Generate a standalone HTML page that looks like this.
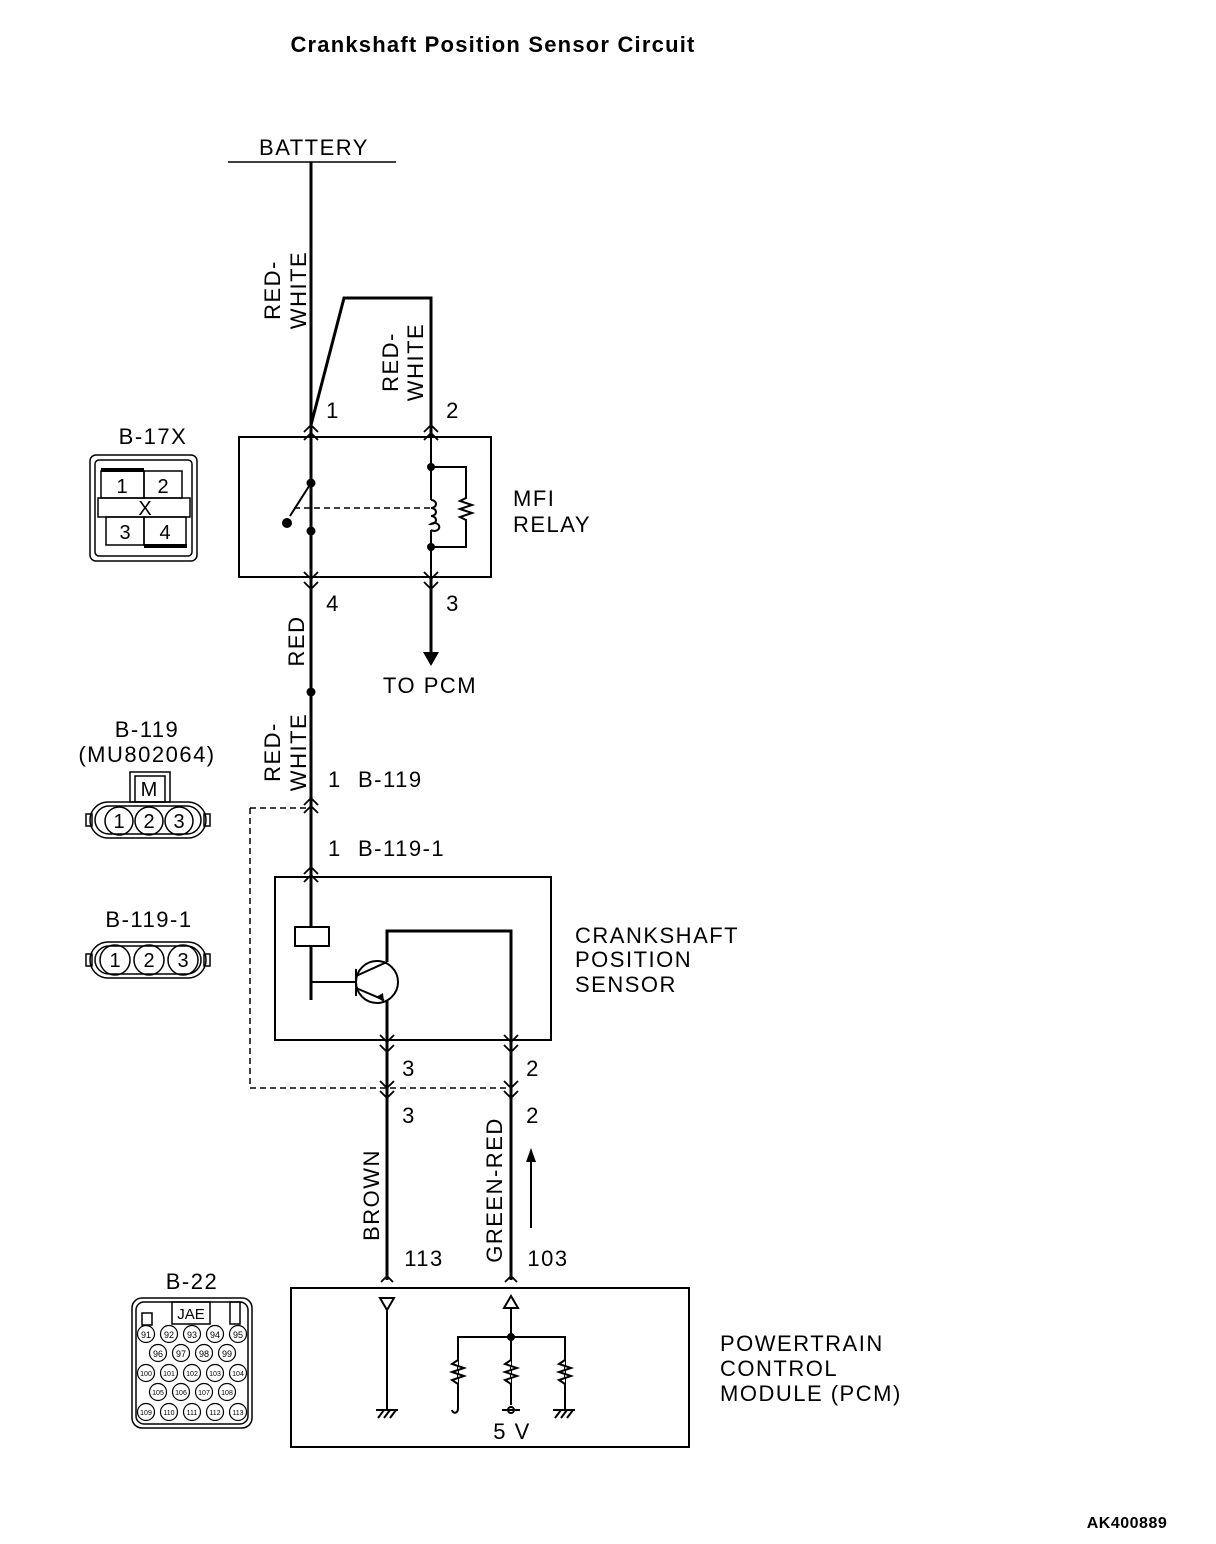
<!DOCTYPE html>
<html><head><style>body{margin:0;background:#fff}svg{display:block}text{font-family:"Liberation Sans",sans-serif;fill:#000}.t text,.t{letter-spacing:1.5px}</style></head><body>
<svg width="1216" height="1544" viewBox="0 0 1216 1544" xmlns="http://www.w3.org/2000/svg">
<g font-size="22" class="t">
<text x="493" y="52" text-anchor="middle" font-weight="bold" font-size="22" style="letter-spacing:1.2px">Crankshaft Position Sensor Circuit</text>
<text x="314" y="155" text-anchor="middle">BATTERY</text>
<text x="1127" y="1528" text-anchor="middle" font-weight="bold" font-size="16" style="letter-spacing:0.5px">AK400889</text>
</g>
<g stroke="#000" fill="none">
<line x1="228" y1="162" x2="396" y2="162" stroke-width="1.5"/>
<line x1="311" y1="162" x2="311" y2="1000" stroke-width="3"/>
<polyline points="311,425 344,298 431,298 431,437" stroke-width="3"/>
<rect x="239" y="437" width="252" height="140" stroke-width="2"/>
<line x1="431" y1="437" x2="431" y2="500" stroke-width="2"/>
<line x1="431" y1="530" x2="431" y2="577" stroke-width="2"/>
<line x1="431" y1="577" x2="431" y2="655" stroke-width="3"/>
<path d="M431,500 a5,4 0 1 1 0,8 a5,4 0 1 1 0,8 a5,4 0 1 1 0,8 a5,4 0 1 1 0,6" stroke-width="2"/>
<polyline points="431,467 466,467 466,498 460,501 472,505 460,509 472,513 460,517 466,520 466,547 431,547" stroke-width="2"/>
<line x1="311" y1="483" x2="290" y2="516" stroke-width="2"/>
<line x1="294" y1="508" x2="431" y2="508" stroke-width="1.5" stroke-dasharray="6,4"/>
<polyline points="250,808 250,1088 511,1088" stroke-width="1.5" stroke-dasharray="6,4"/>
<line x1="250" y1="808" x2="311" y2="808" stroke-width="1.5" stroke-dasharray="6,4"/>
<rect x="275" y="877" width="276" height="163" stroke-width="2"/>
<rect x="295" y="927" width="34" height="19" stroke-width="2" fill="#fff"/>
<polyline points="311,946 311,982 356,982" stroke-width="2"/>
<circle cx="377" cy="982" r="21" stroke-width="2"/>
<line x1="356" y1="969" x2="356" y2="996" stroke-width="2"/>
<line x1="356" y1="976" x2="387" y2="962" stroke-width="2"/>
<line x1="356" y1="988" x2="384" y2="1000" stroke-width="2"/>
<polyline points="387,962 387,931 511,931 511,1280" stroke-width="3"/>
<line x1="387" y1="1000" x2="387" y2="1280" stroke-width="3"/>
<line x1="531" y1="1228" x2="531" y2="1160" stroke-width="2"/>
<rect x="291" y="1288" width="398" height="159" stroke-width="2"/>
<line x1="387" y1="1310" x2="387" y2="1410" stroke-width="2"/>
<line x1="511" y1="1308" x2="511" y2="1405" stroke-width="2"/>
<polyline points="458,1390 458,1337 565,1337 565,1410" stroke-width="2"/>
<path d="M458,1360 l-6,4 l12,4 l-12,4 l12,4 l-12,4 l6,4 M511,1360 l-6,4 l12,4 l-12,4 l12,4 l-12,4 l6,4 M565,1360 l-6,4 l12,4 l-12,4 l12,4 l-12,4 l6,4" stroke-width="2" fill="#fff"/>
<path d="M458,1390 v18 c0,6 -5,6 -6,2" stroke-width="2"/>
<path d="M380,1298 h14 l-7,12 z M504,1308 h14 l-7,-12 z" stroke-width="2"/>
<path d="M376,1410 h22 M378,1418 l6,-8 M384,1418 l6,-8 M390,1418 l6,-8 M553,1410 h22 M555,1418 l6,-8 M561,1418 l6,-8 M567,1418 l6,-8" stroke-width="2"/>
<line x1="502" y1="1410" x2="520" y2="1410" stroke-width="2"/>
<circle cx="511" cy="1410" r="3" stroke-width="2"/>
<path stroke-width="1.8" d="M304,432 l7,-7 l7,7 M304,440 l7,-7 l7,7 M424,432 l7,-7 l7,7 M424,440 l7,-7 l7,7
M304,572 l7,7 l7,-7 M304,582 l7,7 l7,-7 M424,572 l7,7 l7,-7 M424,582 l7,7 l7,-7
M304,805 l7,-7 l7,7 M304,813 l7,-7 l7,7 M304,874 l7,-7 l7,7 M304,882 l7,-7 l7,7
M380,1035 l7,7 l7,-7 M380,1045 l7,7 l7,-7 M504,1035 l7,7 l7,-7 M504,1045 l7,7 l7,-7
M380,1081 l7,7 l7,-7 M380,1091 l7,7 l7,-7 M504,1081 l7,7 l7,-7 M504,1091 l7,7 l7,-7
M381,1282 l6,-6 l6,6 M505,1282 l6,-6 l6,6"/>
</g>
<g fill="#000">
<circle cx="311" cy="483" r="4.5"/><circle cx="287" cy="523" r="5"/><circle cx="311" cy="531" r="4.5"/>
<circle cx="431" cy="467" r="4"/><circle cx="431" cy="547" r="4"/><circle cx="311" cy="692" r="4.5"/>
<circle cx="511" cy="1337" r="4"/>
<path d="M423,652 h16 l-8,14 z"/>
<path d="M526,1162 h10 l-5,-14 z"/>
<path d="M376,997 l8,5 l-1,-9 z"/>
</g>
<g font-size="22" class="t">
<text x="333" y="418" text-anchor="middle">1</text><text x="453" y="418" text-anchor="middle">2</text>
<text x="333" y="611" text-anchor="middle">4</text><text x="453" y="611" text-anchor="middle">3</text>
<text x="513" y="506">MFI</text><text x="513" y="532">RELAY</text>
<text x="430" y="693" text-anchor="middle">TO PCM</text>
<text x="328" y="787">1</text><text x="358" y="787">B-119</text>
<text x="328" y="856">1</text><text x="358" y="856">B-119-1</text>
<text x="575" y="943">CRANKSHAFT</text><text x="575" y="967">POSITION</text><text x="575" y="992">SENSOR</text>
<text x="409" y="1076" text-anchor="middle">3</text><text x="533" y="1076" text-anchor="middle">2</text>
<text x="409" y="1123" text-anchor="middle">3</text><text x="533" y="1123" text-anchor="middle">2</text>
<text x="424" y="1266" text-anchor="middle">113</text><text x="548" y="1266" text-anchor="middle">103</text>
<text x="720" y="1351">POWERTRAIN</text><text x="720" y="1376">CONTROL</text><text x="720" y="1401">MODULE (PCM)</text>
<text x="512" y="1439" text-anchor="middle">5 V</text>
<text transform="translate(288,290) rotate(-90)" text-anchor="middle" x="0" y="-8">RED-</text>
<text transform="translate(288,290) rotate(-90)" text-anchor="middle" x="0" y="18">WHITE</text>
<text transform="translate(406,362) rotate(-90)" text-anchor="middle" x="0" y="-8">RED-</text>
<text transform="translate(406,362) rotate(-90)" text-anchor="middle" x="0" y="17">WHITE</text>
<text transform="translate(288,752) rotate(-90)" text-anchor="middle" x="0" y="-8">RED-</text>
<text transform="translate(288,752) rotate(-90)" text-anchor="middle" x="0" y="18">WHITE</text>
<text transform="translate(304,641) rotate(-90)" text-anchor="middle">RED</text>
<text transform="translate(379,1195) rotate(-90)" text-anchor="middle">BROWN</text>
<text transform="translate(502,1190) rotate(-90)" text-anchor="middle">GREEN-RED</text>
<text x="153" y="444" text-anchor="middle">B-17X</text>
<text x="147" y="737" text-anchor="middle">B-119</text>
<text x="147" y="762" text-anchor="middle">(MU802064)</text>
<text x="149" y="927" text-anchor="middle">B-119-1</text>
<text x="192" y="1289" text-anchor="middle">B-22</text>
</g>
<g stroke="#000" fill="none" stroke-width="1.5">
<rect x="90" y="455" width="107" height="106" rx="6"/>
<rect x="95" y="460" width="97" height="96" rx="4"/>
<rect x="101" y="471" width="43" height="27"/><rect x="144" y="471" width="38" height="27"/>
<rect x="98" y="498" width="92" height="19"/>
<rect x="106" y="517" width="38" height="28"/><rect x="144" y="517" width="42" height="28"/>
<line x1="101" y1="470" x2="144" y2="470" stroke-width="4"/>
<line x1="144" y1="546" x2="187" y2="546" stroke-width="4"/>
</g>
<g font-size="20" text-anchor="middle"><text x="122" y="493">1</text><text x="163" y="493">2</text><text x="145" y="515">X</text><text x="125" y="539">3</text><text x="165" y="539">4</text></g>
<g stroke="#000" fill="none" stroke-width="1.5">
<rect x="130" y="772" width="40" height="30"/><rect x="135" y="776" width="30" height="26"/>
<rect x="90" y="802" width="116" height="36" rx="18"/><rect x="95" y="806" width="106" height="28" rx="14"/>
<rect x="86" y="814" width="6" height="12"/><rect x="204" y="814" width="6" height="12"/>
<circle cx="119" cy="821" r="14"/><circle cx="149" cy="821" r="14"/><circle cx="179" cy="821" r="14"/>
<rect x="90" y="942" width="116" height="36" rx="18"/><rect x="95" y="946" width="106" height="28" rx="14"/>
<rect x="86" y="954" width="6" height="12"/><rect x="204" y="954" width="6" height="12"/>
<circle cx="115" cy="960" r="15"/><circle cx="149" cy="960" r="15"/><circle cx="183" cy="960" r="15"/>
</g>
<g font-size="20" text-anchor="middle"><text x="149" y="796">M</text>
<text x="119" y="828">1</text><text x="149" y="828">2</text><text x="179" y="828">3</text>
<text x="115" y="967">1</text><text x="149" y="967">2</text><text x="183" y="967">3</text></g>
<g stroke="#000" fill="none" stroke-width="1.5">
<rect x="132" y="1298" width="120" height="130" rx="10"/><rect x="136" y="1302" width="112" height="122" rx="8"/>
<rect x="172" y="1302" width="38" height="22"/><rect x="142" y="1313" width="10" height="12"/><rect x="230" y="1302" width="10" height="22"/>
<g stroke-width="1.2">
<circle cx="146" cy="1334" r="8.5"/><circle cx="169" cy="1334" r="8.5"/><circle cx="192" cy="1334" r="8.5"/><circle cx="215" cy="1334" r="8.5"/><circle cx="238" cy="1334" r="8.5"/>
<circle cx="158" cy="1353" r="8.5"/><circle cx="181" cy="1353" r="8.5"/><circle cx="204" cy="1353" r="8.5"/><circle cx="227" cy="1353" r="8.5"/>
<circle cx="146" cy="1373" r="8.5"/><circle cx="169" cy="1373" r="8.5"/><circle cx="192" cy="1373" r="8.5"/><circle cx="215" cy="1373" r="8.5"/><circle cx="238" cy="1373" r="8.5"/>
<circle cx="158" cy="1392" r="8.5"/><circle cx="181" cy="1392" r="8.5"/><circle cx="204" cy="1392" r="8.5"/><circle cx="227" cy="1392" r="8.5"/>
<circle cx="146" cy="1412" r="8.5"/><circle cx="169" cy="1412" r="8.5"/><circle cx="192" cy="1412" r="8.5"/><circle cx="215" cy="1412" r="8.5"/><circle cx="238" cy="1412" r="8.5"/>
</g></g>
<g font-size="9" text-anchor="middle"><text x="191" y="1319" font-size="15">JAE</text>
<text x="146" y="1338">91</text><text x="169" y="1338">92</text><text x="192" y="1338">93</text><text x="215" y="1338">94</text><text x="238" y="1338">95</text>
<text x="158" y="1357">96</text><text x="181" y="1357">97</text><text x="204" y="1357">98</text><text x="227" y="1357">99</text>
<g font-size="7"><text x="146" y="1376">100</text><text x="169" y="1376">101</text><text x="192" y="1376">102</text><text x="215" y="1376">103</text><text x="238" y="1376">104</text>
<text x="158" y="1395">105</text><text x="181" y="1395">106</text><text x="204" y="1395">107</text><text x="227" y="1395">108</text>
<text x="146" y="1415">109</text><text x="169" y="1415">110</text><text x="192" y="1415">111</text><text x="215" y="1415">112</text><text x="238" y="1415">113</text></g></g>
</svg>
</body></html>
